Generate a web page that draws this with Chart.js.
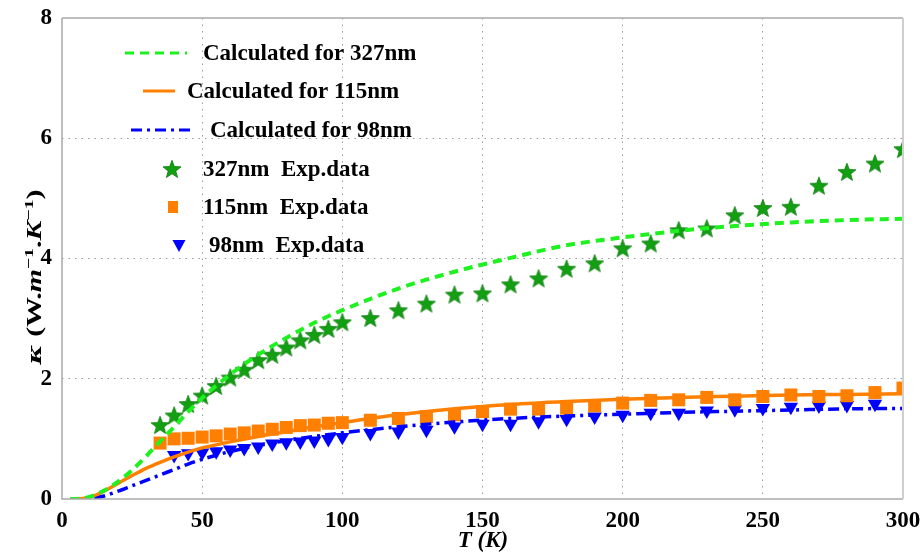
<!DOCTYPE html>
<html>
<head>
<meta charset="utf-8">
<script src="https://cdn.jsdelivr.net/npm/chart.js@4"></script>
<style>
  html, body { margin: 0; padding: 0; background: #fff; }
  #chart { display: block; }
</style>
</head>
<body>
<canvas id="chart" width="923" height="560"></canvas>
<script>
// temperatures (K) and thermal conductivity (W/m/K)
const tCalc = [3, 5, 10, 15, 20, 25, 30, 35, 40, 45, 50, 60, 70, 80, 90, 100, 120, 140, 160, 180, 200, 220, 240, 260, 280, 300];
const k327Calc = [0, 0, 0.04, 0.14, 0.29, 0.48, 0.71, 0.96, 1.2, 1.45, 1.68, 2.07, 2.40, 2.68, 2.93, 3.14, 3.50, 3.78, 4.01, 4.22, 4.35, 4.46, 4.54, 4.60, 4.64, 4.66];
const k115Calc = [0, 0, 0.03, 0.13, 0.26, 0.39, 0.51, 0.61, 0.70, 0.78, 0.85, 0.95, 1.04, 1.12, 1.20, 1.27, 1.40, 1.50, 1.57, 1.62, 1.66, 1.69, 1.71, 1.73, 1.74, 1.75];
const k98Calc = [0, 0, 0.01, 0.05, 0.13, 0.22, 0.31, 0.40, 0.49, 0.58, 0.66, 0.79, 0.89, 0.97, 1.04, 1.10, 1.20, 1.28, 1.34, 1.38, 1.41, 1.44, 1.46, 1.48, 1.50, 1.505];

const tExp327 = [35, 40, 45, 50, 55, 60, 65, 70, 75, 80, 85, 90, 95, 100, 110, 120, 130, 140, 150, 160, 170, 180, 190, 200, 210, 220, 230, 240, 250, 260, 270, 280, 290, 300];
const k327Exp = [1.23, 1.39, 1.58, 1.72, 1.88, 2.02, 2.15, 2.31, 2.40, 2.52, 2.64, 2.73, 2.83, 2.94, 3.01, 3.14, 3.25, 3.40, 3.42, 3.57, 3.67, 3.83, 3.92, 4.17, 4.25, 4.47, 4.50, 4.72, 4.84, 4.86, 5.21, 5.44, 5.58, 5.82];

const tExp115 = [35, 40, 45, 50, 55, 60, 65, 70, 75, 80, 85, 90, 95, 100, 110, 120, 130, 140, 150, 160, 170, 180, 190, 200, 210, 220, 230, 240, 250, 260, 270, 280, 290, 300];
const k115Exp = [0.93, 1.0, 1.01, 1.03, 1.05, 1.08, 1.10, 1.13, 1.16, 1.19, 1.22, 1.23, 1.26, 1.27, 1.31, 1.34, 1.37, 1.40, 1.455, 1.495, 1.495, 1.51, 1.55, 1.595, 1.64, 1.65, 1.69, 1.65, 1.705, 1.73, 1.705, 1.717, 1.77, 1.845];

const tExp98 = [40, 45, 50, 55, 60, 65, 70, 75, 80, 85, 90, 95, 100, 110, 120, 130, 140, 150, 160, 170, 180, 190, 200, 210, 220, 230, 240, 250, 260, 270, 280, 290];
const k98Exp = [0.73, 0.76, 0.77, 0.79, 0.82, 0.845, 0.87, 0.92, 0.94, 0.955, 0.97, 0.995, 1.03, 1.095, 1.12, 1.15, 1.205, 1.25, 1.25, 1.29, 1.33, 1.37, 1.40, 1.43, 1.43, 1.47, 1.49, 1.51, 1.53, 1.55, 1.56, 1.58];

const xTicks = [0, 50, 100, 150, 200, 250, 300];
const yTicks = [0, 2, 4, 6, 8];

const legendLabels = ['Calculated for 327nm', 'Calculated for 115nm', 'Calculated for 98nm',
                      '327nm  Exp.data', '115nm  Exp.data', '98nm  Exp.data'];

const SERIF = '"Liberation Serif", "Times New Roman", serif';

function pts(xs, ys) {
    return xs.map((x, i) => ({ x: x, y: ys[i] }));
}

// filled five-point star used as marker
function makeStar(size, fill, stroke) {
    const c = document.createElement('canvas');
    c.width = size; c.height = size;
    const g = c.getContext('2d');
    const cx = size / 2, cy = size / 2 + 0.8;
    const ro = size / 2 - 0.5, ri = ro * 0.42;
    g.beginPath();
    for (let i = 0; i < 10; i++) {
        const r = i % 2 === 0 ? ro : ri;
        const a = -Math.PI / 2 + i * Math.PI / 5;
        const px = cx + r * Math.cos(a), py = cy + r * Math.sin(a);
        if (i === 0) g.moveTo(px, py); else g.lineTo(px, py);
    }
    g.closePath();
    g.fillStyle = fill;
    g.fill();
    g.lineWidth = 0.8;
    g.strokeStyle = stroke;
    g.stroke();
    return c;
}

const starImg = makeStar(20, '#12a012', '#0a7a0a');

/* FRAME */
const framePlugin = {
    id: 'frame',
    afterDatasetsDraw(chart) {
        const { ctx, chartArea: a } = chart;
        ctx.save();
        ctx.lineWidth = 1.5;
        ctx.strokeStyle = '#a9a9a9';
        ctx.beginPath();
        ctx.moveTo(a.left, a.top); ctx.lineTo(a.right, a.top);
        ctx.moveTo(a.left, a.top); ctx.lineTo(a.left, a.bottom); ctx.lineTo(a.right, a.bottom);
        ctx.stroke();
        ctx.lineWidth = 2;
        ctx.strokeStyle = '#cfcfcf';
        ctx.beginPath();
        ctx.moveTo(a.right, a.top); ctx.lineTo(a.right, a.bottom);
        ctx.stroke();
        ctx.restore();
    }
};

/* AXIS TITLES */
function partFont(p, size) {
    const fs = p.sup ? size * 0.66 : size * (p.scale || 1);
    return p.style + ' ' + fs + 'px ' + (p.family || SERIF);
}

function drawRich(ctx, parts, size) {
    let x = 0;
    parts.forEach(p => {
        ctx.font = partFont(p, size);
        ctx.fillText(p.t, x, p.sup ? -size * 0.42 : 0);
        x += ctx.measureText(p.t).width;
    });
}

function richWidth(ctx, parts, size) {
    let w = 0;
    parts.forEach(p => {
        ctx.font = partFont(p, size);
        w += ctx.measureText(p.t).width;
    });
    return w;
}

const yTitleParts = [
    { t: 'κ', style: 'italic bold', family: '"DejaVu Serif", serif', scale: 0.9 },
    { t: ' (W.', style: 'bold' },
    { t: 'm', style: 'italic bold' },
    { t: '−1', style: 'bold', sup: true },
    { t: '.', style: 'bold' },
    { t: 'K', style: 'italic bold' },
    { t: '−1', style: 'bold', sup: true },
    { t: ')', style: 'bold' }
];

const titlesPlugin = {
    id: 'titles',
    afterDraw(chart) {
        const { ctx, chartArea: a } = chart;
        ctx.save();
        ctx.fillStyle = '#000';
        ctx.textBaseline = 'alphabetic';
        ctx.textAlign = 'left';
        // y title, rotated
        const size = 28;
        const w = richWidth(ctx, yTitleParts, size);
        ctx.translate(41, 277);
        ctx.rotate(-Math.PI / 2);
        ctx.scale(175 / w, 0.72);
        ctx.translate(-w / 2, 0);
        drawRich(ctx, yTitleParts, size);
        ctx.restore();

        // x title
        ctx.save();
        ctx.fillStyle = '#000';
        ctx.font = 'italic bold 23px ' + SERIF;
        ctx.textAlign = 'center';
        ctx.textBaseline = 'alphabetic';
        ctx.fillText('T (K)', 483, 547);
        ctx.restore();
    }
};

/* LEGEND */
const legendRows = [
    { y: 53, x0: 125, x1: 187, tx: 203 },
    { y: 91, x0: 143, x1: 175, tx: 187 },
    { y: 130, x0: 131, x1: 191, tx: 210 },
    { y: 169, mx: 172, tx: 203 },
    { y: 207, mx: 173, tx: 203 },
    { y: 245, mx: 179, tx: 209 }
];

const legendPlugin = {
    id: 'insideLegend',
    afterDraw(chart) {
        const ctx = chart.ctx;
        const ds = chart.data.datasets;
        ctx.save();
        legendRows.forEach((r, i) => {
            const d = ds[i];
            if (i < 3) {
                ctx.save();
                ctx.strokeStyle = d.borderColor;
                ctx.lineWidth = 3;
                ctx.setLineDash(d.borderDash || []);
                ctx.beginPath();
                ctx.moveTo(r.x0, r.y); ctx.lineTo(r.x1, r.y);
                ctx.stroke();
                ctx.restore();
            } else if (i === 3) {
                ctx.drawImage(starImg, r.mx - 10, r.y - 10);
            } else if (i === 4) {
                ctx.fillStyle = d.backgroundColor;
                ctx.fillRect(r.mx - 5, r.y - 6, 10, 12);
            } else {
                ctx.fillStyle = d.backgroundColor;
                ctx.beginPath();
                ctx.moveTo(r.mx - 6.5, r.y - 5);
                ctx.lineTo(r.mx + 6.5, r.y - 5);
                ctx.lineTo(r.mx, r.y + 7);
                ctx.closePath();
                ctx.fill();
            }
            ctx.fillStyle = '#000';
            ctx.font = 'bold 23px ' + SERIF;
            ctx.textAlign = 'left';
            ctx.textBaseline = 'middle';
            ctx.fillText(legendLabels[i], r.tx, r.y + 1);
        });
        ctx.restore();
    }
};

const edgeGrid = (ctx, max) => (ctx.tick && (ctx.tick.value === 0 || ctx.tick.value === max)) ? 'rgba(0,0,0,0)' : '#9a9a9a';

new Chart(document.getElementById('chart'), {
    type: 'scatter',
    data: {
        datasets: [
            {
                label: legendLabels[0],
                data: pts(tCalc, k327Calc),
                showLine: true,
                borderColor: '#1ff01f',
                borderWidth: 4,
                borderDash: [9, 6],
                pointRadius: 0,
                cubicInterpolationMode: 'monotone'
            },
            {
                label: legendLabels[1],
                data: pts(tCalc, k115Calc),
                showLine: true,
                borderColor: '#ff8000',
                borderWidth: 3.5,
                pointRadius: 0,
                cubicInterpolationMode: 'monotone'
            },
            {
                label: legendLabels[2],
                data: pts(tCalc, k98Calc),
                showLine: true,
                borderColor: '#0000ff',
                borderWidth: 3.5,
                borderDash: [11, 5, 3, 5],
                pointRadius: 0,
                cubicInterpolationMode: 'monotone'
            },
            {
                label: legendLabels[3],
                data: pts(tExp327, k327Exp),
                pointStyle: starImg,
                pointRadius: 9,
                backgroundColor: '#12a012'
            },
            {
                label: legendLabels[4],
                data: pts(tExp115, k115Exp),
                pointStyle: 'rect',
                pointRadius: 9.2,
                backgroundColor: '#ff8000',
                borderColor: '#ff8000',
                borderWidth: 0
            },
            {
                label: legendLabels[5],
                data: pts(tExp98, k98Exp),
                pointStyle: 'triangle',
                rotation: 180,
                pointRadius: 8.3,
                backgroundColor: '#0000ff',
                borderColor: '#0000ff',
                borderWidth: 0
            }
        ]
    },
    options: {
        responsive: false,
        animation: false,
        events: [],
        layout: { padding: { left: 0, right: 20, top: 18, bottom: 0 } },
        plugins: {
            legend: { display: false },
            tooltip: { enabled: false }
        },
        scales: {
            x: {
                type: 'linear',
                min: 0,
                max: 300,
                afterBuildTicks: s => { s.ticks = xTicks.map(v => ({ value: v })); },
                afterFit: s => { s.height = 61; s.paddingLeft = 0; s.paddingRight = 0; },
                grid: {
                    drawTicks: false,
                    lineWidth: 1,
                    color: c => edgeGrid(c, 300)
                },
                border: { display: false, dash: [1.5, 5] },
                ticks: {
                    padding: 8,
                    color: '#000',
                    font: { family: SERIF, size: 23, weight: 'bold' }
                }
            },
            y: {
                type: 'linear',
                min: 0,
                max: 8,
                afterBuildTicks: s => { s.ticks = yTicks.map(v => ({ value: v })); },
                afterFit: s => { s.width = 62; s.paddingTop = 0; s.paddingBottom = 0; },
                grid: {
                    drawTicks: false,
                    lineWidth: 1,
                    color: c => edgeGrid(c, 8)
                },
                border: { display: false, dash: [1.5, 5] },
                ticks: {
                    padding: 10,
                    color: '#000',
                    font: { family: SERIF, size: 23, weight: 'bold' }
                }
            }
        }
    },
    plugins: [framePlugin, titlesPlugin, legendPlugin]
});
</script>
</body>
</html>
